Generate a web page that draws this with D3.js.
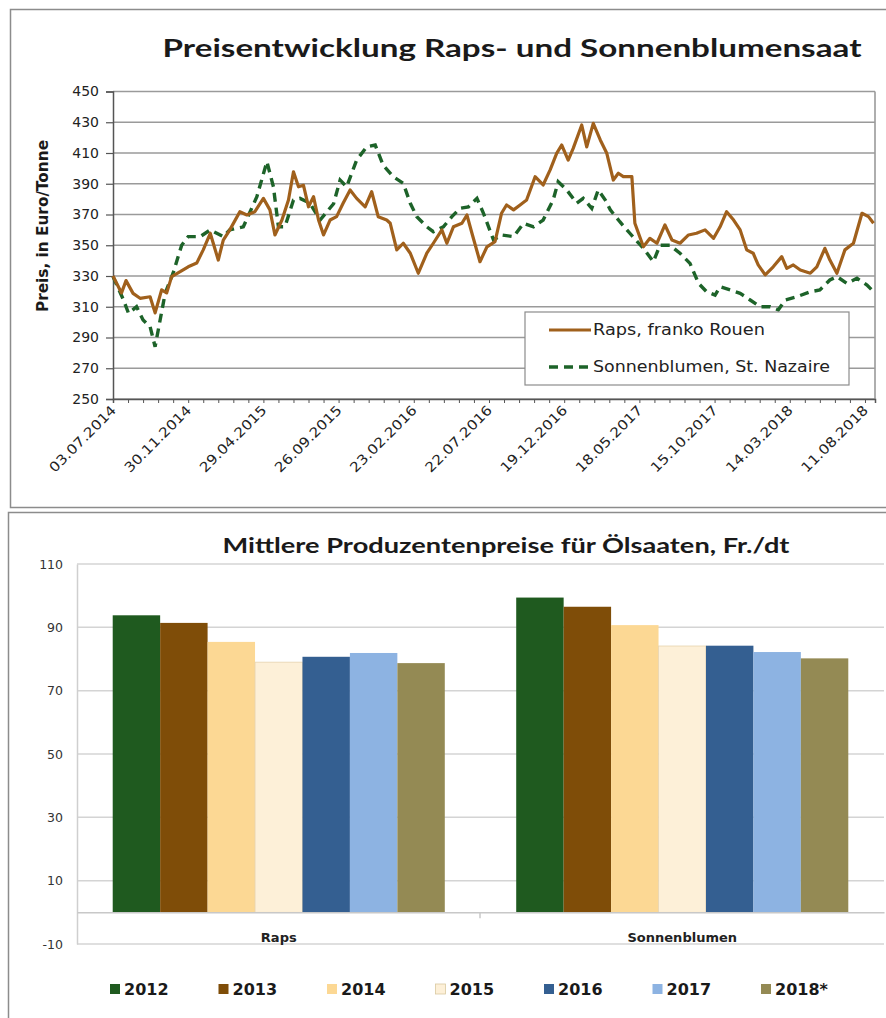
<!DOCTYPE html>
<html><head><meta charset="utf-8">
<script src="https://cdn.jsdelivr.net/npm/d3@7"></script>
<style>
html,body{margin:0;padding:0;background:#fff;}
svg{display:block;}
</style></head>
<body>
<svg id="chart" width="886" height="1018"></svg>
<script>
// ---------- DATA: top line chart ----------
const startDate = "03.07.2014";               // first observation
const endOffsetDays = 1520;                    // axis end (days after start)
const xTickLabels = ["03.07.2014","30.11.2014","29.04.2015","26.09.2015","23.02.2016","22.07.2016","19.12.2016","18.05.2017","15.10.2017","14.03.2018","11.08.2018"];
const yTicksTop = [250,270,290,310,330,350,370,390,410,430,450];
// days after start date
const rapsDays = [0,17,26,40,54,74,84,97,107,117,134,150,167,180,194,210,220,233,253,267,283,300,313,323,337,350,360,370,380,390,400,410,420,433,446,459,473,486,503,516,529,546,553,566,579,593,609,626,639,656,666,679,696,706,716,732,746,762,775,785,799,812,825,842,858,872,885,895,908,918,935,945,958,972,985,998,1008,1018,1035,1041,1058,1071,1085,1101,1115,1131,1148,1164,1181,1198,1211,1224,1238,1251,1264,1277,1287,1301,1317,1334,1344,1357,1371,1391,1404,1420,1430,1444,1460,1477,1494,1507,1517];
const rapsPrice = [330,319,327,318.7,315.5,316.5,306,321,319,329.6,332.8,336,338.4,347,357.8,340.4,353.4,360,371.8,369.7,371.8,380.5,373,356.7,366.4,379.4,397.8,388,389,375,381.6,366.4,356.7,366.4,368.6,377.3,386,380.5,375,384.8,368.6,366.4,364.3,347,351.3,344.8,331.8,344.8,351.3,360,351.3,362,364.3,369.7,357.8,339.3,349,352.3,370.8,376.2,373,376.2,379.4,394.6,389.2,399,409.8,415.2,405.4,413,428.2,414,429.3,418.5,409.8,392.4,396.8,394.6,394.6,364.3,349,354.5,351.3,363.2,353.4,351.3,356.7,357.8,360,354.5,362,371.8,366.4,360,347,344.8,337.2,330.7,336,342.6,335,337.2,333.9,331.8,336,348,340.4,331.8,347,351.3,370.8,368.6,364.3];
const sonnenDays = [0,21,31,47,60,74,84,94,104,120,137,150,174,194,207,220,233,260,287,307,320,330,343,360,373,393,413,440,453,466,486,506,523,539,559,579,593,606,626,639,659,676,692,709,726,739,759,775,799,819,839,858,878,888,905,925,938,955,968,982,992,1011,1031,1058,1078,1091,1111,1131,1151,1168,1184,1201,1211,1231,1251,1271,1291,1311,1327,1341,1364,1391,1410,1430,1444,1464,1484,1504,1517];
const sonnenPrice = [329.6,314.4,305.7,310,301.4,297,284,301.4,318.7,332,350,355.6,355.6,360,357.8,355.6,360,362,381.6,404.4,388,362,362,379.4,380.5,377.3,366.4,377,392.4,388,405.4,414,415.2,402,394.6,390.3,377.3,368.6,362,358.8,362,368.6,374,375,380.5,370.8,353.4,356.7,355.6,364.3,362,366.4,379.4,391.3,386,377.3,380.5,374,386,379.4,373,365.3,357.8,348,339.3,350,350,344.8,338.2,325.2,319.8,317.6,323,320.9,318.7,314.4,310,310,308,314.4,316.5,319.8,320.9,327.4,329.6,325.2,328.5,324.1,319.8];
const seriesNames = ["Raps, franko Rouen","Sonnenblumen, St. Nazaire"];

// ---------- DATA: bottom bar chart ----------
const barCategories = ["Raps","Sonnenblumen"];
const years = ["2012","2013","2014","2015","2016","2017","2018*"];
const rapsBars = [93.8,91.4,85.4,79.0,80.7,81.9,78.7];
const sonnenBars = [99.4,96.5,90.7,84.1,84.2,82.2,80.2];
const yTicksBottom = [-10,10,30,50,70,90,110];
const yearColors = ["#1f5a1f","#7f4d08","#fcd894","#fdf0d8","#345f91","#8db3e2","#948a54"];

// ---------- DRAW ----------
const svg = d3.select("#chart");
const F = "'DejaVu Sans', sans-serif";
const parse = d3.timeParse("%d.%m.%Y");
const t0 = parse(startDate);

// frames
svg.append("rect").attr("x",10.5).attr("y",9.5).attr("width",880).attr("height",498)
  .attr("fill","none").attr("stroke","#8c8c8c").attr("stroke-width",1.5);
svg.append("rect").attr("x",8.5).attr("y",512.5).attr("width",882).attr("height",510)
  .attr("fill","none").attr("stroke","#8c8c8c").attr("stroke-width",1.5);

// ===== top chart =====
const x = d3.scaleTime().domain([t0, d3.timeDay.offset(t0,endOffsetDays)]).range([113,875]);
const y = d3.scaleLinear().domain([250,450]).range([399,91.5]);

svg.append("text").attr("x",512).attr("y",57).attr("text-anchor","middle")
  .attr("font-family","Lato, sans-serif").attr("font-weight",700).attr("font-size",25)
  .attr("textLength",699).attr("lengthAdjust","spacingAndGlyphs").attr("fill","#1a1a1a")
  .text("Preisentwicklung Raps- und Sonnenblumensaat");

// gridlines
const gTop = svg.append("g");
gTop.selectAll("line.grid").data(yTicksTop).join("line")
  .attr("x1",113).attr("x2",875).attr("y1",d=>y(d)).attr("y2",d=>y(d))
  .attr("stroke","#9a9a9a").attr("stroke-width",1.6);
gTop.append("line").attr("x1",875).attr("x2",875).attr("y1",y(450)).attr("y2",y(250))
  .attr("stroke","#9a9a9a").attr("stroke-width",1.6);

// y axis
const yAx = svg.append("g").attr("transform","translate(113,0)")
  .call(d3.axisLeft(y).tickValues(yTicksTop).tickSize(7).tickPadding(7));
yAx.select(".domain").attr("stroke","#555").attr("stroke-width",1.5);
yAx.selectAll(".tick line").attr("stroke","#555").attr("stroke-width",1.2);
yAx.selectAll("text").attr("font-family",F).attr("font-size",14).attr("fill","#222");

svg.append("text").attr("transform","translate(48,226) rotate(-90)").attr("text-anchor","middle")
  .attr("font-family",F).attr("font-weight",700).attr("font-size",15)
  .attr("textLength",172).attr("lengthAdjust","spacingAndGlyphs").attr("fill","#1a1a1a")
  .text("Preis, in Euro/Tonne");

// x axis
const minorTicks = d3.range(0,endOffsetDays+1,30).map(d=>d3.timeDay.offset(t0,d));
const xAx = svg.append("g").attr("transform","translate(0,399)")
  .call(d3.axisBottom(x).tickValues(minorTicks).tickSize(4).tickFormat(""));
xAx.select(".domain").attr("stroke","#555").attr("stroke-width",1.5);
xAx.selectAll(".tick line").attr("stroke","#555");
const labDates = xTickLabels.map(parse);
svg.append("g").selectAll("text").data(labDates).join("text")
  .attr("transform",d=>`translate(${x(d)+4},${411}) rotate(-45)`)
  .attr("text-anchor","end").attr("font-family",F).attr("font-size",13.5)
  .attr("textLength",88).attr("lengthAdjust","spacingAndGlyphs").attr("fill","#222")
  .text((d,i)=>xTickLabels[i]);

// lines
const rapsData = rapsDays.map((d,i)=>({date:d3.timeDay.offset(t0,d), v:rapsPrice[i]}));
const sonnenData = sonnenDays.map((d,i)=>({date:d3.timeDay.offset(t0,d), v:sonnenPrice[i]}));
const line = d3.line().x(d=>x(d.date)).y(d=>y(d.v));
svg.append("path").datum(sonnenData).attr("d",line).attr("fill","none")
  .attr("stroke","#1d6329").attr("stroke-width",3.4).attr("stroke-dasharray","9,6");
svg.append("path").datum(rapsData).attr("d",line).attr("fill","none")
  .attr("stroke","#a0601c").attr("stroke-width",3.2).attr("stroke-linejoin","round");

// legend
const lg = svg.append("g");
lg.append("rect").attr("x",525).attr("y",312).attr("width",324).attr("height",73)
  .attr("fill","#fff").attr("stroke","#8c8c8c").attr("stroke-width",1.2);
lg.append("line").attr("x1",549).attr("x2",591).attr("y1",330).attr("y2",330)
  .attr("stroke","#a0601c").attr("stroke-width",3.2);
lg.append("line").attr("x1",549).attr("x2",591).attr("y1",367).attr("y2",367)
  .attr("stroke","#1d6329").attr("stroke-width",3.4).attr("stroke-dasharray","9,6");
lg.append("text").attr("x",593).attr("y",335).attr("font-family",F).attr("font-size",15)
  .attr("textLength",172).attr("lengthAdjust","spacingAndGlyphs").attr("fill","#222").text(seriesNames[0]);
lg.append("text").attr("x",593).attr("y",372).attr("font-family",F).attr("font-size",15)
  .attr("textLength",237).attr("lengthAdjust","spacingAndGlyphs").attr("fill","#222").text(seriesNames[1]);

// ===== bottom chart =====
const yb = d3.scaleLinear().domain([-10,110]).range([944,564]);
const xb = d3.scaleBand().domain(barCategories).range([77,884]).paddingInner(0.177).paddingOuter(0.0885);
const xi = d3.scaleBand().domain(years).range([0,xb.bandwidth()]).padding(0);

svg.append("text").attr("x",506).attr("y",553).attr("text-anchor","middle")
  .attr("font-family","Lato, sans-serif").attr("font-weight",700).attr("font-size",20)
  .attr("textLength",567).attr("lengthAdjust","spacingAndGlyphs").attr("fill","#1a1a1a")
  .text("Mittlere Produzentenpreise für Ölsaaten, Fr./dt");

svg.append("g").selectAll("line").data(yTicksBottom).join("line")
  .attr("x1",77).attr("x2",884).attr("y1",d=>yb(d)).attr("y2",d=>yb(d))
  .attr("stroke","#d4d4d4").attr("stroke-width",1.5);

const ybAx = svg.append("g").attr("transform","translate(77,0)")
  .call(d3.axisLeft(yb).tickValues(yTicksBottom).tickSize(0).tickPadding(14).tickFormat(d=>String(d)));
ybAx.select(".domain").attr("stroke","#cfcfcf").attr("stroke-width",1.5);
ybAx.selectAll("text").attr("font-family",F).attr("font-size",12.5).attr("fill","#333");

const barSeries = [rapsBars, sonnenBars];
const bg = svg.append("g");
barCategories.forEach((cat,ci)=>{
  bg.append("g").attr("transform",`translate(${xb(cat)},0)`)
    .selectAll("rect").data(barSeries[ci]).join("rect")
    .attr("x",(d,i)=>xi(years[i])).attr("width",xi.bandwidth())
    .attr("y",d=>yb(d)).attr("height",d=>yb(0)-yb(d))
    .attr("fill",(d,i)=>yearColors[i])
    .attr("stroke",(d,i)=>i===3?"#e6d3ae":"none").attr("stroke-width",0.8);
});

// category axis at zero
const xbAx = svg.append("g").attr("transform",`translate(0,${yb(0)})`)
  .call(d3.axisBottom(xb).tickSize(0).tickPadding(20));
xbAx.select(".domain").attr("stroke","#c8c8c8").attr("stroke-width",1.5);
xbAx.selectAll("text").attr("font-family",F).attr("font-weight",700).attr("font-size",13).attr("fill","#222");
svg.append("line").attr("x1",480).attr("x2",480).attr("y1",yb(0)).attr("y2",yb(0)+6)
  .attr("stroke","#c8c8c8").attr("stroke-width",1.5);

// legend
const legX = d3.scalePoint().domain(years).range([110,761]);
const lb = svg.append("g").selectAll("g").data(years).join("g")
  .attr("transform",d=>`translate(${legX(d)},0)`);
lb.append("rect").attr("x",0).attr("y",984).attr("width",10).attr("height",10)
  .attr("fill",(d,i)=>yearColors[i]).attr("stroke",(d,i)=>i===3?"#d9c9a0":"none").attr("stroke-width",0.8);
lb.append("text").attr("x",14).attr("y",995).attr("font-family",F).attr("font-weight",700)
  .attr("font-size",16).attr("fill","#1a1a1a").text(d=>d);
</script>
</body></html>
